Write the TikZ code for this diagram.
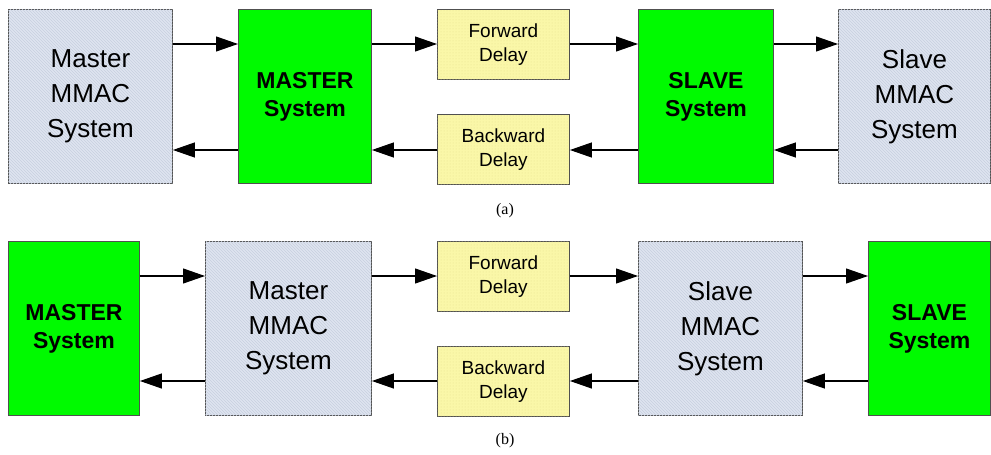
\documentclass[tikz,border=0pt]{standalone}
\usepackage{fontspec}
\setmainfont{Liberation Sans}
\newfontfamily\capfont{Liberation Serif}
\usetikzlibrary{arrows.meta,patterns}
\definecolor{mmacfill}{RGB}{222,228,240}
\definecolor{mmachatch}{RGB}{200,208,224}
\definecolor{delayfill}{RGB}{250,247,168}
\definecolor{delaydot}{RGB}{230,225,145}
\definecolor{sysgreen}{RGB}{0,250,0}
\definecolor{edge}{RGB}{80,80,80}
\tikzset{
  box/.style={draw=edge, line width=0.9pt, inner sep=0pt, anchor=north west, align=center},
  mmac/.style={box, fill=mmacfill, postaction={pattern=north west lines, pattern color=mmachatch},
    font=\fontsize{26}{35}\selectfont},
  sysbox/.style={box, fill=sysgreen, font=\fontsize{23}{28}\selectfont\bfseries},
  delaybox/.style={box, fill=delayfill, postaction={pattern=dots, pattern color=delaydot},
    minimum width=132pt, minimum height=70pt, font=\fontsize{19}{24}\selectfont},
  arr/.style={line width=1.1pt, draw=black, -{Triangle[length=22pt,width=15pt]}},
  caption/.style={font=\capfont\fontsize{16}{18}\selectfont}
}
\begin{document}
\begin{tikzpicture}[x=1pt,y=-1pt]
\useasboundingbox (0,0) rectangle (991,455);

% ---- row (a) ----
\node[mmac, minimum width=164pt, minimum height=174pt] (mmacMa) at (8,9) {Master\\MMAC\\System};
\node[sysbox, minimum width=133pt, minimum height=174pt] (sysMa) at (238,9) {MASTER\\System};
\node[delaybox] (fwdA) at (437,9) {Forward\\Delay};
\node[delaybox] (bwdA) at (437,114) {Backward\\Delay};
\node[sysbox, minimum width=135pt, minimum height=174pt] (sysSa) at (638,9) {SLAVE\\System};
\node[mmac, minimum width=152pt, minimum height=174pt] (mmacSa) at (838,9) {Slave\\MMAC\\System};

\coordinate (fa) at (0,44);
\coordinate (ba) at (0,150);
\draw[arr] (mmacMa.east |- fa) -- (sysMa.west |- fa);
\draw[arr] (sysMa.east |- fa) -- (fwdA.west |- fa);
\draw[arr] (fwdA.east |- fa) -- (sysSa.west |- fa);
\draw[arr] (sysSa.east |- fa) -- (mmacSa.west |- fa);
\draw[arr] (mmacSa.west |- ba) -- (sysSa.east |- ba);
\draw[arr] (sysSa.west |- ba) -- (bwdA.east |- ba);
\draw[arr] (bwdA.west |- ba) -- (sysMa.east |- ba);
\draw[arr] (sysMa.west |- ba) -- (mmacMa.east |- ba);

\node[caption] (capA) at (505,211) {(a)};

% ---- row (b) ----
\node[sysbox, minimum width=131pt, minimum height=174pt] (sysMb) at (8,241) {MASTER\\System};
\node[mmac, minimum width=166pt, minimum height=174pt] (mmacMb) at (205,241) {Master\\MMAC\\System};
\node[delaybox] (fwdB) at (437,241) {Forward\\Delay};
\node[delaybox] (bwdB) at (437,346) {Backward\\Delay};
\node[mmac, minimum width=164pt, minimum height=174pt] (mmacSb) at (638,241) {Slave\\MMAC\\System};
\node[sysbox, minimum width=122pt, minimum height=174pt] (sysSb) at (868,241) {SLAVE\\System};

\coordinate (fb) at (0,276);
\coordinate (bb) at (0,381);
\draw[arr] (sysMb.east |- fb) -- (mmacMb.west |- fb);
\draw[arr] (mmacMb.east |- fb) -- (fwdB.west |- fb);
\draw[arr] (fwdB.east |- fb) -- (mmacSb.west |- fb);
\draw[arr] (mmacSb.east |- fb) -- (sysSb.west |- fb);
\draw[arr] (sysSb.west |- bb) -- (mmacSb.east |- bb);
\draw[arr] (mmacSb.west |- bb) -- (bwdB.east |- bb);
\draw[arr] (bwdB.west |- bb) -- (mmacMb.east |- bb);
\draw[arr] (mmacMb.west |- bb) -- (sysMb.east |- bb);

\node[caption] (capB) at (505,441) {(b)};
\end{tikzpicture}
\end{document}
